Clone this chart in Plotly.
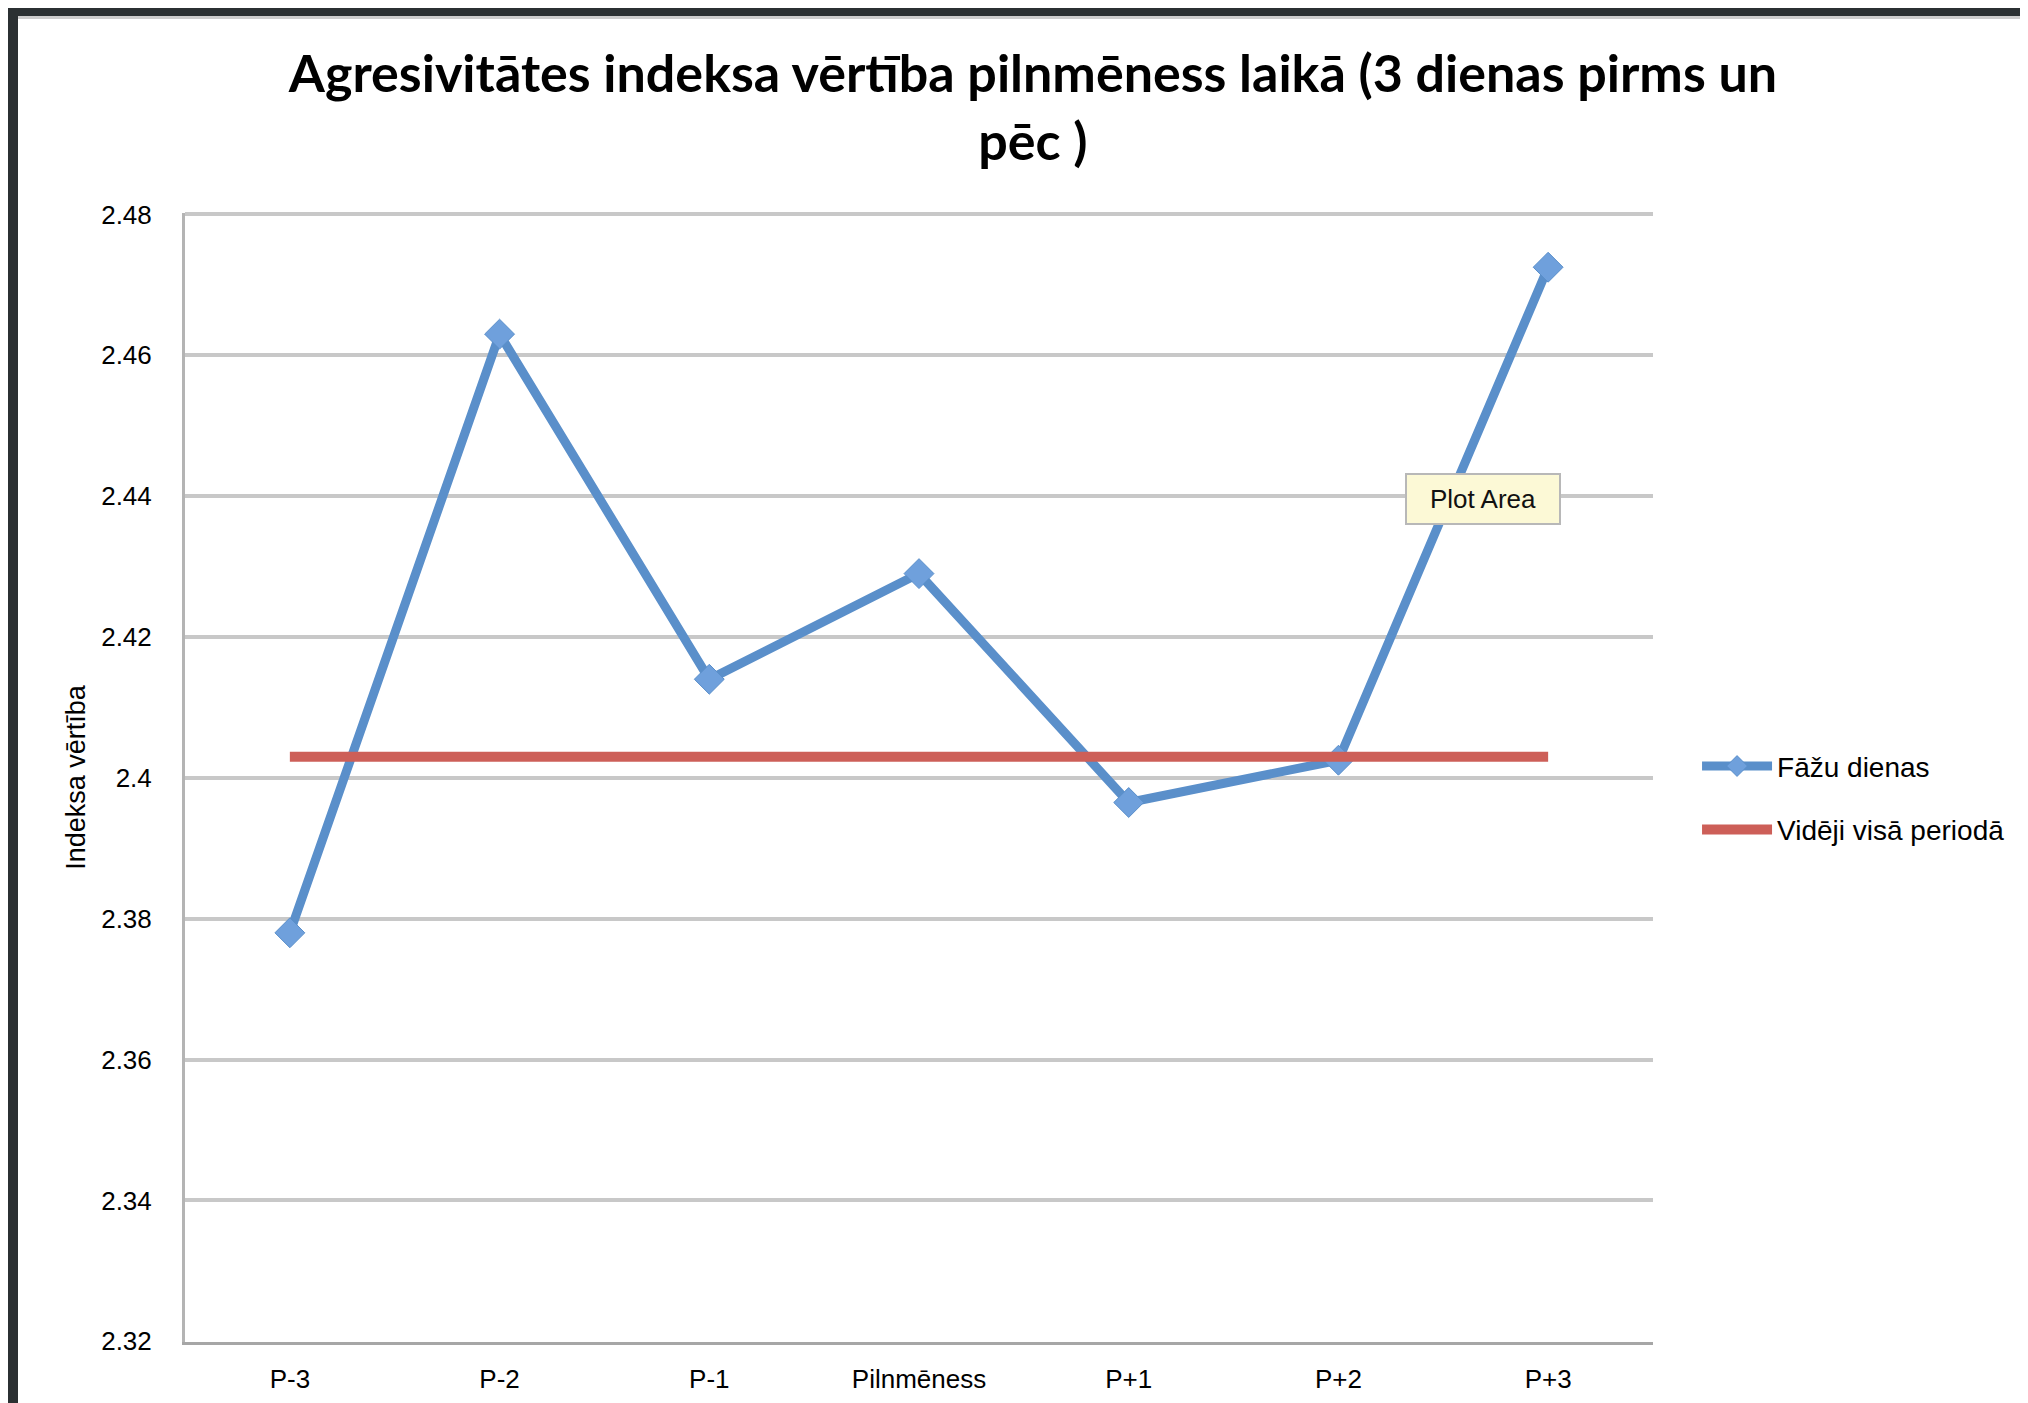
import plotly.graph_objects as go

# data
days = ["P-3", "P-2", "P-1", "Pilnmēness", "P+1", "P+2", "P+3"]
phase_values = [2.378, 2.463, 2.414, 2.429, 2.3965, 2.4025, 2.4725]
period_avg = 2.403
avg_values = [period_avg] * len(days)
y_ticks = [2.32, 2.34, 2.36, 2.38, 2.40, 2.42, 2.44, 2.46, 2.48]

TITLE = "Agresivitātes indeksa vērtība pilnmēness laikā (3 dienas pirms un<br>pēc )"
BLUE = "#5A8FCA"
RED = "#CD5F58"
GRID = "#C8C8C8"
FONT = "Liberation Sans"

W, H = 2028, 1403
L, R, T, B = 177, 383, 205, 69

fig = go.Figure()
fig.add_trace(go.Scatter(
    x=days, y=phase_values, name="Fāžu dienas", mode="lines+markers",
    line=dict(color=BLUE, width=9),
    marker=dict(symbol="diamond", size=23, color="#6FA0DC", line=dict(color=BLUE, width=1)),
    legendgroup="a",
))
fig.add_trace(go.Scatter(
    x=days, y=avg_values, name="Vidēji visā periodā", mode="lines",
    line=dict(color=RED, width=10),
    legendgroup="b",
))

# "Plot Area" tooltip box
fig.add_annotation(
    x=5.69, y=2.4396, xref="x", yref="y", text="Plot Area", showarrow=False,
    font=dict(family=FONT, size=26, color="#111"),
    bgcolor="#FCF9D6", bordercolor="#B8B8B8", borderwidth=2,
    width=150, height=46,
)

# dark screenshot frame on the left and top edges
pw, ph = W - L - R, H - T - B
def px_x(p):
    return (p - L) / pw
def px_y(p):
    return (H - B - p) / ph
fig.add_shape(type="rect", xref="paper", yref="paper", x0=px_x(0), x1=px_x(10),
              y0=px_y(H), y1=px_y(0), fillcolor="#2B3032", line_width=0, layer="above")
fig.add_shape(type="rect", xref="paper", yref="paper", x0=px_x(0), x1=px_x(W),
              y0=px_y(8), y1=px_y(0), fillcolor="#2B3032", line_width=0, layer="above")
fig.add_shape(type="rect", xref="paper", yref="paper", x0=px_x(10), x1=px_x(W),
              y0=px_y(11), y1=px_y(8), fillcolor="#CCCCCC", line_width=0, layer="above")

fig.update_layout(
    width=W, height=H,
    margin=dict(l=L, r=R, t=T, b=B),
    paper_bgcolor="white", plot_bgcolor="white",
    title=dict(text=TITLE, x=0.5054, xanchor="center", y=1 - 84 / H, yanchor="middle",
               font=dict(family="Lato", size=52, color="black", weight="bold")),
    legend=dict(x=1.030, xanchor="left", y=0.482, yanchor="middle",
                font=dict(family=FONT, size=28, color="black"),
                itemwidth=70, tracegroupgap=24, bgcolor="rgba(0,0,0,0)"),
    xaxis=dict(type="category", range=[-0.5, 6.5], showgrid=False,
               showline=True, linecolor="#A6A6A6", linewidth=3, ticks="",
               tickfont=dict(family=FONT, size=26, color="black"), ticklabelstandoff=12),
    yaxis=dict(range=[2.3199, 2.4802], tickvals=y_ticks, ticktext=[f"{v:g}" for v in y_ticks],
               showgrid=True, gridcolor=GRID, gridwidth=4, zeroline=False,
               showline=True, linecolor="#B4B4B4", linewidth=3, ticks="",
               tickfont=dict(family=FONT, size=26, color="black"), ticklabelstandoff=25,
               title=dict(text="Indeksa vērtība", standoff=8,
                          font=dict(family=FONT, size=27, color="black"))),
    hovermode="x",
)

fig.write_html("out.html")
